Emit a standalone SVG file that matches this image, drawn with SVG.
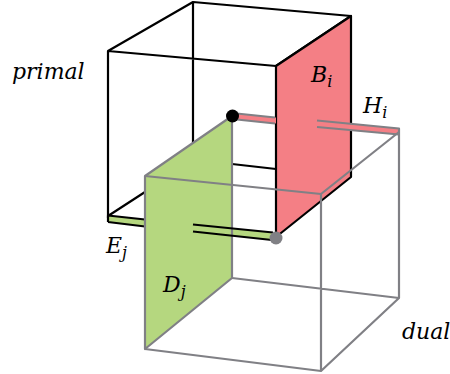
<svg xmlns="http://www.w3.org/2000/svg" width="450" height="374" viewBox="0 0 450 374">
<style>
.k{fill:none;stroke:#000;stroke-width:2.200;stroke-linejoin:round}
.g{fill:none;stroke:#808085;stroke-width:2.200;stroke-linejoin:round}
.t{font-family:"DejaVu Serif",serif;font-style:italic;font-size:22px;fill:#000}
.s{font-size:16px}
</style>
<g id="primal-cube">
<path class="k" d="M108 218V51L193 2L351 16L276 66L108 51M193 2V144M232 164L276 169M108 216L145 192"/>
</g>
<g id="Bi">
<polygon points="276,66 351,16 351,177 276,237" fill="#f47f85"/>
<path class="k" d="M276 237V66L351 16V177Z"/>
</g>
<g id="Hi-strip">
<polygon points="232,113 276,117.500 276,123.500 232,119" fill="#f47f85"/>
<polygon points="318,120.500 398,128.500 398,134.500 318,127" fill="#f47f85"/>
<path class="g" d="M232 113L275 117.500M317 120.500L399 128.500V132M232 119L275 123.500M317 127L399 134.500"/>
</g>
<g id="Ej-strip">
<polygon points="108,215.500 145,219.500 145,226.500 108,222" fill="#b5d77f"/>
<polygon points="193,224.500 276,233 276,240.500 193,231.500" fill="#b5d77f"/>
<path class="k" d="M108 215.500L145 219.500M108 222L145 226.500M108 215.500V222"/>
</g>
<g id="Dj">
<polygon points="145,176 232,116 232,278 145,349" fill="#b5d77f"/>
<path class="g" d="M145 349V176L232 116V278Z"/>
</g>
<g id="connectors">
<path class="k" d="M193 224.500L273 232.500M193 231.500L272 240"/>
<path class="g" d="M145 176L321 194L399 132M321 194V371M399 132V298L321 371L145 349M232 278L399 298"/>
</g>
<g id="vertices">
<circle cx="232.500" cy="116" r="6.500" fill="#000"/>
<circle cx="276" cy="238" r="6.500" fill="#808085"/>
</g>
<g id="labels">
<text class="t" x="12" y="79">primal</text>
<text class="t" x="402" y="339">dual</text>
<text class="t" x="311" y="82">B<tspan class="s" dy="5">i</tspan></text>
<text class="t" x="363" y="113">H<tspan class="s" dy="5">i</tspan></text>
<text class="t" x="106" y="253">E<tspan class="s" dy="5">j</tspan></text>
<text class="t" x="163" y="292">D<tspan class="s" dy="5">j</tspan></text>
</g>
</svg>
